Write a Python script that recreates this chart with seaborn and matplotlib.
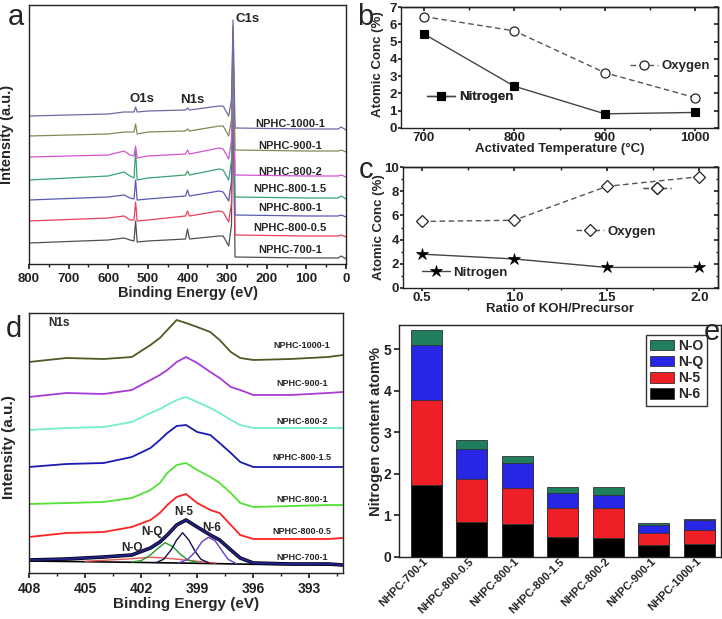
import matplotlib
matplotlib.use("Agg")
import matplotlib.pyplot as plt
from matplotlib.lines import Line2D
from matplotlib.patches import Patch
from matplotlib.ticker import MultipleLocator, FormatStrFormatter
import pandas as pd
import seaborn as sns

sns.set_theme(style="ticks")
plt.rcParams["font.family"] = ["Liberation Sans", "DejaVu Sans"]
plt.rcParams["font.weight"] = "bold"
plt.rcParams["axes.labelweight"] = "bold"
plt.rcParams["axes.linewidth"] = 1.0
plt.rcParams["axes.edgecolor"] = "#222222"
plt.rcParams["xtick.color"] = "#222222"
plt.rcParams["ytick.color"] = "#222222"

W, H = 722, 619

# --------------------------------------------------------------------------- #
# Data
# --------------------------------------------------------------------------- #

# (a) XPS survey, intensity in arbitrary units
SURVEY_EV = [800, 600, 560, 545, 535, 531, 527, 500, 405, 400, 395, 320, 310,
             296, 289, 285, 283, 280, 100, 20, 12, 0]
survey_1000_1 = [148, 150, 152, 152, 152, 157, 152, 153, 154, 156, 154, 158, 158,
                 148, 164, 244, 198, 136, 135, 135, 137, 134]
survey_900_1 = [128, 130, 132, 132, 132, 140, 130, 132, 133, 135, 133, 138, 138,
                128, 144, 238, 181, 114, 113, 113, 114, 112]
survey_800_2 = [107, 109, 113, 109, 108, 118, 106, 108, 110, 114, 110, 116, 115,
                105, 124, 234, 164, 89, 88, 88, 89, 87]
survey_800_15 = [84, 88, 92, 88, 86, 113, 84, 86, 89, 93, 89, 95, 94,
                 84, 104, 231, 148, 67, 66, 66, 68, 65]
survey_800_1 = [64, 67, 69, 66, 65, 84, 64, 65, 68, 74, 68, 73, 72,
                63, 83, 228, 131, 49, 48, 48, 49, 47]
survey_800_05 = [43, 46, 48, 44, 44, 62, 43, 44, 48, 53, 48, 53, 52,
                 42, 61, 224, 114, 29, 28, 28, 29, 27]
survey_700_1 = [21, 24, 26, 24, 23, 43, 22, 23, 25, 35, 25, 28, 28,
                18, 39, 221, 98, 7, 6, 6, 8, 5]

SAMPLES = ["NPHC-1000-1", "NPHC-900-1", "NPHC-800-2", "NPHC-800-1.5",
           "NPHC-800-1", "NPHC-800-0.5", "NPHC-700-1"]
SURVEY_CURVES = [survey_1000_1, survey_900_1, survey_800_2, survey_800_15,
                 survey_800_1, survey_800_05, survey_700_1]
SURVEY_COLORS = ["#6b6ba8", "#7f8b58", "#d452d4", "#3aa273", "#5a5ab4",
                 "#e8405c", "#505050"]
SURVEY_LABEL_Y = [140, 118, 92, 75, 56, 36, 14]

# (b) atomic concentration vs activation temperature
TEMP = [700, 800, 900, 1000]
TEMP_OXYGEN = [6.45, 5.62, 3.2, 1.75]
TEMP_NITROGEN = [5.45, 2.42, 0.82, 0.9]

# (c) atomic concentration vs KOH ratio
RATIO = [0.5, 1.0, 1.5, 2.0]
RATIO_OXYGEN = [5.5, 5.6, 8.4, 9.2]
RATIO_NITROGEN = [2.8, 2.4, 1.7, 1.7]

# (d) N1s high resolution spectra
N1S_EV = [408, 406, 404, 402.5, 401.5, 401, 400.6, 400.1, 399.6, 399, 398.3,
          397.8, 397.2, 396.7, 396, 394, 392, 391.2]
n1s_1000_1 = [211, 215, 214, 216, 228, 235, 243, 253, 250, 246, 241, 233, 221, 215, 213, 214, 216, 218]
n1s_900_1 = [176, 180, 179, 183, 193, 198, 203, 211, 216, 210, 201, 195, 186, 183, 178, 178, 180, 181]
n1s_800_2 = [143, 145, 146, 151, 160, 164, 168, 173, 176, 171, 165, 160, 153, 148, 145, 145, 145, 145]
n1s_800_15 = [106, 109, 110, 116, 125, 133, 140, 147, 148, 141, 138, 130, 120, 111, 106, 106, 106, 106]
n1s_800_1 = [69, 70, 71, 75, 83, 90, 100, 108, 110, 103, 96, 90, 80, 70, 66, 67, 68, 68]
n1s_800_05 = [36, 40, 41, 46, 53, 60, 68, 76, 79, 70, 63, 60, 48, 38, 34, 34, 34, 35]
n1s_700_1 = [13, 14, 16, 18, 25, 31, 38, 48, 53, 46, 38, 33, 23, 15, 10, 9, 9, 8]
N1S_CURVES = [n1s_1000_1, n1s_900_1, n1s_800_2, n1s_800_15, n1s_800_1, n1s_800_05]
N1S_COLORS = ["#4a5c22", "#a83ad8", "#72f0c2", "#1a1ab4", "#52e236", "#ff2222"]
N1S_LABEL_Y = [228, 190, 151, 115, 74, 41, 16]

# fitted components of NPHC-700-1
BASE_EV = [408, 402.5, 399, 396, 391.2]
BASE_I = [12, 10.7, 9.7, 8.7, 8]
NO_EV = [405, 403, 402, 401.5, 401, 400, 399, 398]
NO_I = [11.7, 13.7, 15, 15.7, 15.3, 13.7, 11.7, 10]
NQ_EV = [402.5, 402, 401.5, 401.1, 400.72, 400.3, 399.9, 399.5, 399]
NQ_I = [11, 12.3, 18, 24.7, 30.3, 26.3, 18.7, 13, 10.7]
N5_EV = [401.2, 400.8, 400.4, 400.1, 399.78, 399.45, 399.1, 398.8, 398.4]
N5_I = [10.3, 13.7, 23, 33, 40.3, 33, 21.3, 13.7, 10.3]
N6_EV = [400.0, 399.5, 399.1, 398.75, 398.4, 398.05, 397.7, 397.35, 396.9]
N6_I = [10, 13.7, 21.3, 31.3, 35.7, 32.3, 23, 13.7, 9.3]

# (e) nitrogen species content, atom%
E_SAMPLES = ["NHPC-700-1", "NHPC-800-0.5", "NHPC-800-1", "NHPC-800-1.5",
             "NHPC-800-2", "NHPC-900-1", "NHPC-1000-1"]
N6 = [1.73, 0.85, 0.80, 0.48, 0.45, 0.28, 0.32]
N5 = [2.04, 1.03, 0.85, 0.71, 0.72, 0.29, 0.32]
NQ = [1.33, 0.72, 0.60, 0.36, 0.32, 0.20, 0.24]
NO = [0.35, 0.21, 0.17, 0.13, 0.19, 0.05, 0.04]
SPECIES = ["N-O", "N-Q", "N-5", "N-6"]
SPECIES_COLORS = ["#1f7e5b", "#2626e4", "#ee1f26", "#000000"]


# --------------------------------------------------------------------------- #
# Helpers
# --------------------------------------------------------------------------- #

def box(left, top, right, bottom):
    return [left / W, 1 - bottom / H, (right - left) / W, (bottom - top) / H]


def mirror_ticks(ax, xmaj, xmin, ymaj, ymin):
    top = ax.secondary_xaxis("top")
    top.xaxis.set_major_locator(MultipleLocator(xmaj))
    top.xaxis.set_minor_locator(MultipleLocator(xmin))
    top.tick_params(which="both", direction="in", labeltop=False)
    top.tick_params(which="major", length=3)
    top.tick_params(which="minor", length=1.8)
    right = ax.secondary_yaxis("right")
    right.yaxis.set_major_locator(MultipleLocator(ymaj))
    right.yaxis.set_minor_locator(MultipleLocator(ymin))
    right.tick_params(which="both", direction="in", labelright=False)
    right.tick_params(which="major", length=3)
    right.tick_params(which="minor", length=1.8)


def small_legend(ax, handle, label, x, y, size=9.5):
    leg = ax.legend([handle], [label], loc="center left", bbox_to_anchor=(x, y),
                    frameon=False, borderpad=0, borderaxespad=0,
                    handlelength=2.1, handletextpad=0.3,
                    prop={"size": size, "weight": "bold"})
    ax.add_artist(leg)


fig = plt.figure(figsize=(W / 100, H / 100), dpi=100)

# --------------------------------------------------------------------------- #
# (a) survey spectra
# --------------------------------------------------------------------------- #
ax = fig.add_axes(box(29, 5, 346, 264))
rows = []
for name, vals in zip(SAMPLES, SURVEY_CURVES):
    for ev, v in zip(SURVEY_EV, vals):
        rows.append({"eV": ev, "I": v, "sample": name})
survey_df = pd.DataFrame(rows)
sns.lineplot(data=survey_df, x="eV", y="I", hue="sample",
             hue_order=SAMPLES[::-1], palette=dict(zip(SAMPLES, SURVEY_COLORS)),
             legend=False, lw=0.9, ax=ax)
for name, ly in zip(SAMPLES, SURVEY_LABEL_Y):
    ax.text(141, ly, name, ha="center", va="center", fontsize=8)
ax.text(280, 245, "C1s", ha="left", va="center", fontsize=9.5)
ax.text(514, 165, "O1s", ha="center", va="center", fontsize=9.5)
ax.text(389, 164, "N1s", ha="center", va="center", fontsize=9.5)
ax.set_xlim(800, 0)
ax.set_ylim(0, 259)
ax.set_yticks([])
ax.xaxis.set_major_locator(MultipleLocator(100))
ax.xaxis.set_minor_locator(MultipleLocator(50))
ax.tick_params(axis="x", which="major", length=3.5, labelsize=9.5, pad=3)
ax.tick_params(axis="x", which="minor", length=2)
ax.set_xlabel("Binding Energy (eV)", fontsize=10.5)
ax.set_ylabel("Intensity (a.u.)", fontsize=10.5)
ax.xaxis.set_label_coords(0.5, -0.085)
ax.yaxis.set_label_coords(-0.047, 0.5)

# --------------------------------------------------------------------------- #
# (b) concentration vs temperature
# --------------------------------------------------------------------------- #
ax = fig.add_axes(box(401, 7, 718, 128))
oxy_style = dict(color="#555555", linestyle=(0, (4, 2.5)), lw=1.0, marker="o",
                 ms=6.5, mfc="white", mec="#222222", mew=0.9)
nit_style = dict(color="#444444", linestyle="-", lw=1.0, marker="s",
                 ms=6, mfc="black", mec="black", mew=0.8)
sns.lineplot(x=TEMP, y=TEMP_OXYGEN, ax=ax, **oxy_style)
sns.lineplot(x=TEMP, y=TEMP_NITROGEN, ax=ax, **nit_style)
small_legend(ax, Line2D([], [], **oxy_style), "Oxygen", 0.722, 0.512)
small_legend(ax, Line2D([], [], **nit_style), "Nitrogen", 0.082, 0.256)
ax.set_xlim(675, 1025)
ax.set_ylim(0, 7)
ax.set_xticks(TEMP)
ax.xaxis.set_minor_locator(MultipleLocator(50))
ax.yaxis.set_major_locator(MultipleLocator(1))
ax.tick_params(which="major", length=2.5, labelsize=9.5, pad=0.5)
ax.tick_params(which="minor", length=1.5)
mirror_ticks(ax, 100, 50, 1, 1)
ax.set_xlabel("Activated Temperature (°C)", fontsize=9.5)
ax.set_ylabel("Atomic Conc (%)", fontsize=9.5)
ax.xaxis.set_label_coords(0.5, -0.125)
ax.yaxis.set_label_coords(-0.054, 0.53)

# --------------------------------------------------------------------------- #
# (c) concentration vs KOH ratio
# --------------------------------------------------------------------------- #
ax = fig.add_axes(box(403, 167, 718, 288))
oxy_style = dict(color="#555555", linestyle=(0, (4, 2.5)), lw=1.0, marker="D",
                 ms=6.5, mfc="white", mec="#222222", mew=0.9)
nit_style = dict(color="#444444", linestyle="-", lw=1.0, marker="*",
                 ms=9, mfc="black", mec="black", mew=0.5)
sns.lineplot(x=RATIO, y=RATIO_OXYGEN, ax=ax, **oxy_style)
sns.lineplot(x=RATIO, y=RATIO_NITROGEN, ax=ax, **nit_style)
small_legend(ax, Line2D([], [], **oxy_style), "Oxygen", 0.549, 0.463)
small_legend(ax, Line2D([], [], **nit_style), "Nitrogen", 0.06, 0.124)
small_legend(ax, Line2D([], [], **oxy_style), "", 0.762, 0.81)
ax.set_xlim(0.4, 2.1)
ax.set_ylim(0, 10)
ax.set_xticks(RATIO)
ax.xaxis.set_major_formatter(FormatStrFormatter("%.1f"))
ax.xaxis.set_minor_locator(MultipleLocator(0.25))
ax.yaxis.set_major_locator(MultipleLocator(2))
ax.yaxis.set_minor_locator(MultipleLocator(1))
ax.tick_params(which="major", length=2.5, labelsize=9.5, pad=0.5)
ax.tick_params(which="minor", length=1.5)
mirror_ticks(ax, 0.5, 0.25, 2, 1)
ax.set_xlabel("Ratio of KOH/Precursor", fontsize=9.5)
ax.set_ylabel("Atomic Conc (%)", fontsize=9.5)
ax.xaxis.set_label_coords(0.5, -0.125)
ax.yaxis.set_label_coords(-0.057, 0.5)

# --------------------------------------------------------------------------- #
# (d) N1s spectra with fit
# --------------------------------------------------------------------------- #
ax = fig.add_axes(box(29, 313, 343, 573))
for vals, col in zip(N1S_CURVES, N1S_COLORS):
    sns.lineplot(x=N1S_EV, y=vals, color=col, lw=1.3, ax=ax)
sns.lineplot(x=BASE_EV, y=BASE_I, color="black", lw=1.2, ax=ax)
sns.lineplot(x=NO_EV, y=NO_I, color="#e05a5a", lw=1.0, ax=ax)
sns.lineplot(x=NQ_EV, y=NQ_I, color="#1f9a2a", lw=1.0, ax=ax)
sns.lineplot(x=N5_EV, y=N5_I, color="#12124a", lw=1.0, ax=ax)
sns.lineplot(x=N6_EV, y=N6_I, color="#6a3cc8", lw=1.0, ax=ax)
sns.lineplot(x=N1S_EV, y=n1s_700_1, color="black", lw=2.6, ax=ax)
sns.lineplot(x=N1S_EV, y=n1s_700_1, color="#202086", lw=1.6, ax=ax)
for name, ly in zip(SAMPLES, N1S_LABEL_Y):
    ax.text(393.4, ly, name, ha="center", va="center", fontsize=6.5)
ax.text(402.5, 24.7, "N-O", ha="center", va="center", fontsize=8.5)
ax.text(401.44, 41.3, "N-Q", ha="center", va="center", fontsize=8.5)
ax.text(399.74, 60.7, "N-5", ha="center", va="center", fontsize=8.5)
ax.text(398.23, 44.7, "N-6", ha="center", va="center", fontsize=8.5)
ax.text(0.06, 0.96, "N1s", transform=ax.transAxes, ha="left", va="center",
        fontsize=8.5)
ax.set_xlim(408, 391.2)
ax.set_ylim(0, 260)
ax.set_yticks([])
ax.set_xticks([408, 405, 402, 399, 396, 393])
ax.xaxis.set_minor_locator(MultipleLocator(1.5))
ax.tick_params(axis="x", which="major", length=3.5, labelsize=10, pad=3)
ax.tick_params(axis="x", which="minor", length=2)
ax.set_xlabel("Binding Energy (eV)", fontsize=11)
ax.set_ylabel("Intensity (a.u.)", fontsize=11)
ax.xaxis.set_label_coords(0.5, -0.092)
ax.yaxis.set_label_coords(-0.041, 0.485)

# --------------------------------------------------------------------------- #
# (e) stacked nitrogen species
# --------------------------------------------------------------------------- #
ax = fig.add_axes(box(399, 325, 721, 557))
layers = [N6, N5, NQ, NO]
cum = []
running = [0.0] * len(E_SAMPLES)
for layer in layers:
    running = [r + v for r, v in zip(running, layer)]
    cum.append(running)
# draw tallest first so the lower segments sit on top of it
for total, col in zip(cum[::-1], SPECIES_COLORS):
    sns.barplot(x=E_SAMPLES, y=total, order=E_SAMPLES, color=col,
                saturation=1, width=0.68, edgecolor="#333333", linewidth=0.6,
                errorbar=None, ax=ax)
handles = [Patch(facecolor=c, edgecolor="#333333", linewidth=0.6)
           for c in SPECIES_COLORS]
ax.legend(handles, SPECIES, loc="upper right", bbox_to_anchor=(0.957, 0.957),
          borderaxespad=0, fancybox=False, framealpha=1, edgecolor="#333333",
          handlelength=1.7, handleheight=0.75, handletextpad=0.3,
          labelspacing=0.15, borderpad=0.3,
          prop={"size": 10, "weight": "bold"})
ax.set_xlim(-0.6, 6.48)
ax.set_ylim(0, 5.58)
ax.yaxis.set_major_locator(MultipleLocator(1))
ax.tick_params(axis="y", length=3.5, labelsize=10, pad=2)
ax.tick_params(axis="x", length=0, labelsize=8, pad=2)
for lab in ax.get_xticklabels():
    lab.set_rotation(45)
    lab.set_ha("right")
    lab.set_va("center")
    lab.set_rotation_mode("anchor")
ax.set_xlabel("")
ax.set_ylabel("Nitrogen content atom%", fontsize=10.5)
ax.yaxis.set_label_coords(-0.05, 0.54)

# panel letters
for letter, x, y in [("a", 8, 25), ("b", 357, 25), ("c", 359, 178),
                     ("d", 6, 337), ("e", 704, 340)]:
    fig.text(x / W, 1 - y / H, letter, fontsize=21, fontweight="normal",
             ha="left", va="baseline")

fig.savefig("out.png", dpi=100)
